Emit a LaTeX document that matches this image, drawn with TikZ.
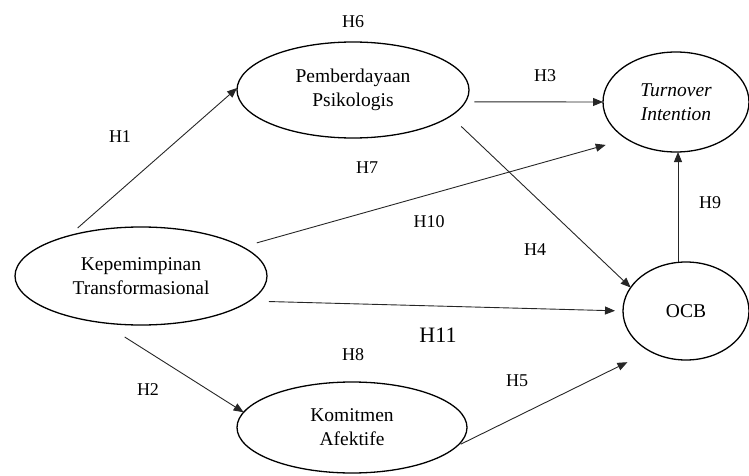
\documentclass[tikz,border=0pt]{standalone}
\usepackage{fontspec}
\setmainfont{Liberation Serif}
\usetikzlibrary{shapes.geometric,arrows.meta}
\tikzset{
  construct/.style={draw=black, line width=1.3pt, ellipse, inner sep=0pt, outer sep=0pt,
    align=center, font=\fontsize{19.5}{24}\selectfont},
  hyp/.style={font=\fontsize{18}{22}\selectfont, inner sep=0pt},
  arr/.style={draw=black!85, line width=0.9pt, -{Triangle[length=10pt,width=8pt]}}
}
\begin{document}
\begin{tikzpicture}[x=1pt,y=-1pt]
\useasboundingbox (0,0) rectangle (749,476);
\node[construct, minimum width=232pt, minimum height=96pt] (pp) at (353,90) {Pemberdayaan\\Psikologis};
\node[construct, minimum width=146pt, minimum height=100pt] (ti) at (676,102) {\itshape Turnover\\\itshape Intention};
\node[construct, minimum width=252pt, minimum height=98pt] (kep) at (141,276) {Kepemimpinan\\Transformasional};
\node[construct, minimum width=126pt, minimum height=98pt] (ocb) at (686,311) {OCB};
\node[construct, minimum width=230pt, minimum height=91pt] (ka) at (352,427.5) {Komitmen\\Afektife};

\draw[arr, shorten <=12pt] (kep.151) -- (pp.179);
\draw[arr, shorten <=9pt] (pp.-6) -- (ti.west);
\draw[arr, shorten <=15pt] (pp.-15) -- (ocb.157);
\draw[arr, shorten <=15pt, shorten >=22pt] (kep.16) -- (ti.217);
\draw[arr, shorten <=19.5pt, shorten >=8pt] (kep.-13.3) -- (ocb.180);
\draw[arr, shorten <=27pt] (kep.230) -- (ka.172);
\draw[arr, shorten <=4pt, shorten >=25pt] (ka.-10.6) -- (ocb.228);
\draw[arr] ([xshift=-8pt]ocb.north) -- ([xshift=-8pt]ocb.north |- ti.south);

\node[hyp] (h6) at (353,22) {H6};
\node[hyp] (h1) at (120,137) {H1};
\node[hyp] (h3) at (545,76) {H3};
\node[hyp] (h7) at (367,168) {H7};
\node[hyp] (h10) at (429,222) {H10};
\node[hyp] (h4) at (535,250) {H4};
\node[hyp] (h9) at (710,203) {H9};
\node[hyp, font=\fontsize{22}{26}\selectfont] (h11) at (438,335) {H11};
\node[hyp] (h8) at (353,355) {H8};
\node[hyp] (h2) at (148,390) {H2};
\node[hyp] (h5) at (517,381) {H5};
\end{tikzpicture}
\end{document}
